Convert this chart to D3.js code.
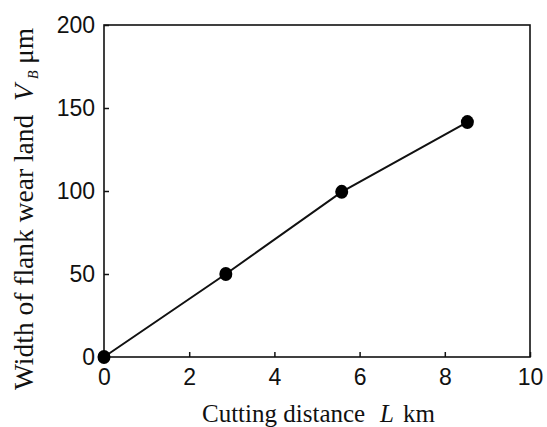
<!DOCTYPE html>
<html>
<head>
<meta charset="utf-8">
<script src="https://d3js.org/d3.v7.min.js"></script>
<style>
  body { margin: 0; background: #fff; }
  .tick text { font-family: "Liberation Sans", Arial, sans-serif; font-size: 23px; fill: #111; }
  .lbl { font-family: "Liberation Serif", "Times New Roman", serif; font-size: 25px; fill: #111; }
</style>
</head>
<body>
<svg width="547" height="427"></svg>
<script>
// data
var distance = [0, 2.86, 5.58, 8.53];      // L, km
var wear = [0, 50, 99.5, 141.5];           // VB, um
var xTicks = [0, 2, 4, 6, 8, 10];
var yTicks = [0, 50, 100, 150, 200];

var svg = d3.select('svg');
var mLeft = 104, mRight = 530, mTop = 25, mBottom = 357;

var x = d3.scaleLinear().domain([0, 10]).range([mLeft, mRight]);
var y = d3.scaleLinear().domain([0, 200]).range([mBottom, mTop]);

// frame
svg.append('rect')
  .attr('x', mLeft).attr('y', mTop)
  .attr('width', mRight - mLeft).attr('height', mBottom - mTop)
  .attr('fill', 'none').attr('stroke', '#111').attr('stroke-width', 1.6);

var xAxis = svg.append('g')
  .attr('transform', 'translate(0,' + mBottom + ')')
  .call(d3.axisBottom(x).tickValues(xTicks).tickFormat(d3.format('d')).tickSizeInner(-5).tickSizeOuter(0).tickPadding(12));

var yAxis = svg.append('g')
  .attr('transform', 'translate(' + mLeft + ',0)')
  .call(d3.axisLeft(y).tickValues(yTicks).tickFormat(d3.format('d')).tickSizeInner(-5).tickSizeOuter(0).tickPadding(9));

[xAxis, yAxis].forEach(function(a) {
  a.select('.domain').remove();
  a.selectAll('.tick line').attr('stroke', '#111').attr('stroke-width', 1.5);
});

var pts = distance.map(function(d, i) { return [d, wear[i]]; });

var line = d3.line()
  .x(function(d) { return x(d[0]); })
  .y(function(d) { return y(d[1]); });

svg.append('path')
  .datum(pts)
  .attr('d', line)
  .attr('fill', 'none')
  .attr('stroke', '#111')
  .attr('stroke-width', 2);

svg.selectAll('ellipse.pt')
  .data(pts)
  .enter()
  .append('ellipse')
  .attr('class', 'pt')
  .attr('cx', function(d) { return x(d[0]); })
  .attr('cy', function(d) { return y(d[1]); })
  .attr('rx', 6.5)
  .attr('ry', 7)
  .attr('fill', '#000');

// axis titles
var xt = svg.append('text')
  .attr('class', 'lbl')
  .attr('y', 422);
xt.append('tspan').attr('x', 202).text('Cutting distance');
xt.append('tspan').attr('x', 380).style('font-style', 'italic').text('L');
xt.append('tspan').attr('x', 403).text('km');

var yt = svg.append('text')
  .attr('class', 'lbl')
  .style('font-size', '27.5px')
  .attr('transform', 'translate(33,0) rotate(-90)');
yt.append('tspan').attr('x', -390).text('Width of flank wear land');
yt.append('tspan').attr('x', -101).style('font-style', 'italic').text('V');
yt.append('tspan').attr('x', -79).attr('dy', 5).style('font-style', 'italic').style('font-size', '14px').text('B');
yt.append('tspan').attr('x', -64).attr('dy', -5).text('\u03bcm');
</script>
</body>
</html>
